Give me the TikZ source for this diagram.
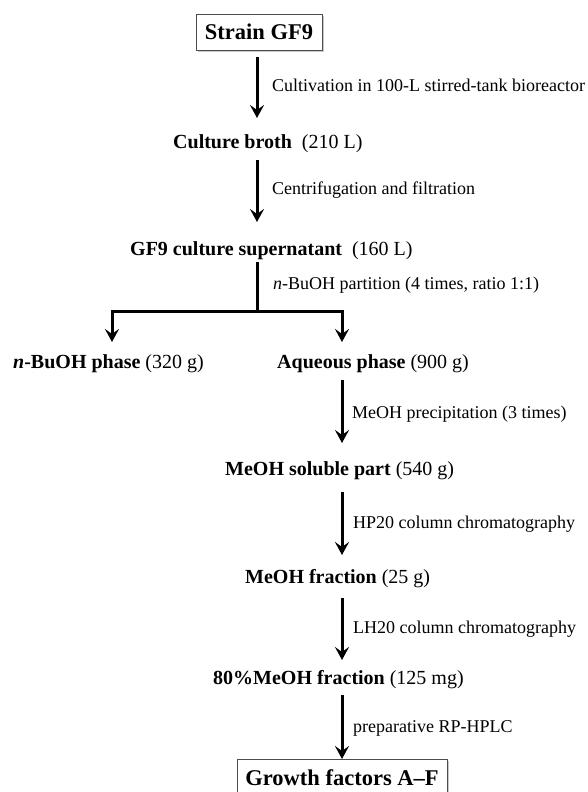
\documentclass[tikz,border=0pt]{standalone}
\usepackage{fontspec}
\setmainfont{Liberation Serif}
\usetikzlibrary{arrows.meta,calc,shadows}
\begin{document}
\begin{tikzpicture}[x=1pt,y=-1pt,
  box/.style={draw=black!70,line width=0.8pt,fill=white,inner sep=0pt,minimum height=36pt,
    font=\fontsize{22.5}{26}\selectfont\bfseries,
    drop shadow={shadow xshift=2pt,shadow yshift=-2pt,fill=black!35,opacity=0.6}},
  txt/.style={inner sep=0pt,anchor=base west,font=\fontsize{20}{24}\selectfont},
  lbl/.style={inner sep=0pt,anchor=base west,font=\fontsize{18}{22}\selectfont},
  arr/.style={line width=3pt,-{Stealth[length=13pt,width=14pt,inset=5pt]}},
  ln/.style={line width=3pt}]
\fill[white] (0,0) rectangle (587,792);
\useasboundingbox (0,0) rectangle (587,792);
\coordinate (colA) at (257,0);
\coordinate (colB) at (342,0);
\coordinate (colN) at (112,0);
% nodes
\node[box,minimum width=126pt] (strain) at (259,32) {Strain GF9};
\node[txt] (broth) at (173,148) {\textbf{Culture broth}\hspace{0.25em} (210 L)};
\node[txt] (super) at (130,255) {\textbf{GF9 culture supernatant}\hspace{0.25em} (160 L)};
\node[txt] (nbuoh) at (13,368) {\textbf{\textit{n}-BuOH phase} (320 g)};
\node[txt] (aqueous) at (277,368) {\textbf{Aqueous phase} (900 g)};
\node[txt] (soluble) at (225,475) {\textbf{MeOH soluble part} (540 g)};
\node[txt] (fraction) at (245,583) {\textbf{MeOH fraction} (25 g)};
\node[txt] (eighty) at (213,684) {\textbf{80\%MeOH fraction} (125 mg)};
\node[box,minimum width=210pt,anchor=north] (growth) at (342,759) {Growth factors A--F};
% labels
\node[lbl] (l1) at (272,92) {Cultivation in 100-L stirred-tank bioreactor};
\node[lbl] (l2) at (272,194) {Centrifugation and filtration};
\node[lbl] (l3) at (273,289) {\textit{n}-BuOH partition (4 times, ratio 1:1)};
\node[lbl] (l4) at (352,418) {MeOH precipitation (3 times)};
\node[lbl] (l5) at (353,528) {HP20 column chromatography};
\node[lbl] (l6) at (353,633) {LH20 column chromatography};
\node[lbl] (l7) at (353,732) {preparative RP-HPLC};
% connectors
\draw[arr] ($(colA |- strain.south)+(0,7)$) -- ($(colA |- broth.base)+(0,-30)$);
\draw[arr] ($(colA |- broth.base)+(0,12)$) -- ($(colA |- super.base)+(0,-33)$);
\coordinate (split) at ($(colA |- super.base)+(0,56)$);
\draw[ln] ($(colA |- super.base)+(0,7)$) -- (split);
\draw[arr,line join=miter] (split) -| ($(colN |- nbuoh.base)+(0,-26)$);
\draw[arr,line join=miter] (split) -| ($(colB |- aqueous.base)+(0,-26)$);
\draw[arr] ($(colB |- aqueous.base)+(0,12)$) -- ($(colB |- soluble.base)+(0,-32)$);
\draw[arr] ($(colB |- soluble.base)+(0,17)$) -- ($(colB |- fraction.base)+(0,-28)$);
\draw[arr] ($(colB |- fraction.base)+(0,15)$) -- ($(colB |- eighty.base)+(0,-24)$);
\draw[arr] ($(colB |- eighty.base)+(0,11)$) -- (growth.north);
\end{tikzpicture}
\end{document}
